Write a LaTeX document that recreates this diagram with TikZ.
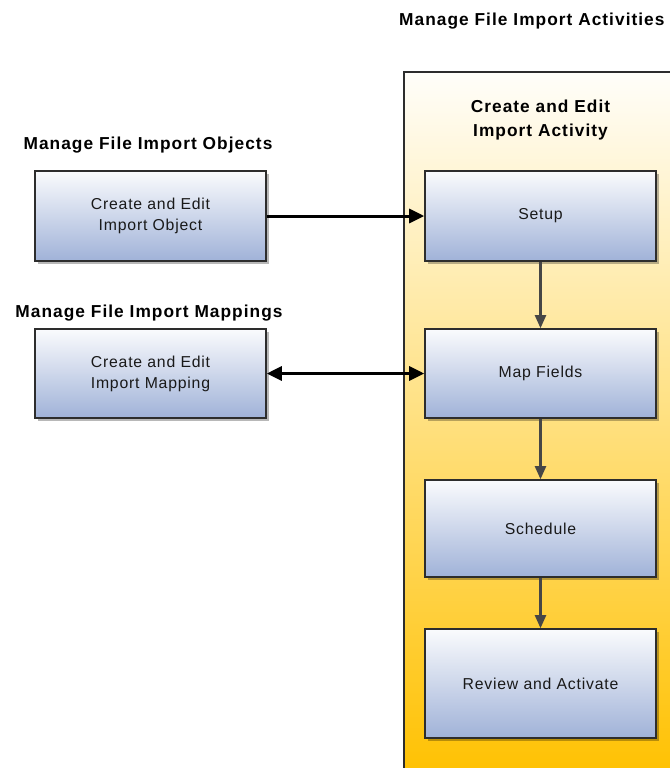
\documentclass[tikz,border=0pt]{standalone}
\usepackage{fontspec}
\setmainfont{Liberation Sans}
\newfontfamily\headfont{Liberation Sans}[LetterSpace=6]
\newfontfamily\stepfont{Liberation Sans}[LetterSpace=5]
\usetikzlibrary{arrows.meta,shadows}

\definecolor{boxtop}{RGB}{250,251,253}
\definecolor{boxbot}{RGB}{160,178,216}
\definecolor{edgedark}{RGB}{45,45,45}
\definecolor{flowgray}{RGB}{70,70,70}
\definecolor{lanetop}{RGB}{255,254,250}
\definecolor{lanemid}{RGB}{255,224,125}
\definecolor{lanebot}{RGB}{255,193,0}
\definecolor{textdark}{RGB}{25,25,25}

\tikzset{
  heading/.style={font=\headfont\bfseries\fontsize{17.3bp}{24bp}\selectfont, text=black, inner sep=0pt, align=center},
  taskbox/.style={draw=edgedark, line width=1.6bp, top color=boxtop, bottom color=boxbot,
    minimum width=231bp, text=textdark, align=center, inner sep=0pt,
    font=\stepfont\fontsize{15.8bp}{21bp}\selectfont,
    drop shadow={shadow xshift=3bp, shadow yshift=-3bp, opacity=0.28, fill=black}},
  bigarrow/.style={line width=3bp, black, -{Triangle[length=15bp,width=14bp]}},
  bothways/.style={line width=3bp, black, {Triangle[length=15bp,width=14bp]}-{Triangle[length=15bp,width=14bp]}},
  flowarrow/.style={line width=2.2bp, flowgray, -{Triangle[length=13bp,width=11bp]}}
}

\begin{document}
\begin{tikzpicture}[x=1bp, y=-1bp]
  \useasboundingbox (0,0) rectangle (670,768);
  \clip (0,0) rectangle (670,768);

  % swim lane for the import activity
  \fill[top color=lanetop, middle color=lanemid, bottom color=lanebot] (404,72) rectangle (680,780);
  \draw[edgedark, line width=1.6bp] (680,72) -- (404,72) -- (404,780);

  % headings
  \node[heading, anchor=west] (hdact) at (399,21) {Manage File Import Activities};
  \node[heading] (hdlane) at (540.5,120) {Create and Edit\\Import Activity};
  \node[heading] (hdobj) at (148,145) {Manage File Import Objects};
  \node[heading] (hdmap) at (149,313) {Manage File Import Mappings};

  % task boxes
  \node[taskbox, minimum height=90bp] (obj) at (150.5,216) {Create and Edit\\Import Object};
  \node[taskbox, minimum height=89bp] (mapobj) at (150.5,373.5) {Create and Edit\\Import Mapping};
  \node[taskbox, minimum height=90bp] (setup) at (540.5,216) {Setup};
  \node[taskbox, minimum height=89bp] (fields) at (540.5,373.5) {Map Fields};
  \node[taskbox, minimum height=97bp] (sched) at (540.5,528.5) {Schedule};
  \node[taskbox, minimum height=109bp] (review) at (540.5,683.5) {Review and Activate};

  % connectors
  \draw[bigarrow] (obj.east) -- (setup.west);
  \draw[bothways] (mapobj.east) -- (fields.west);
  \draw[flowarrow] (setup) -- (fields);
  \draw[flowarrow] (fields) -- (sched);
  \draw[flowarrow] (sched) -- (review);
\end{tikzpicture}
\end{document}
